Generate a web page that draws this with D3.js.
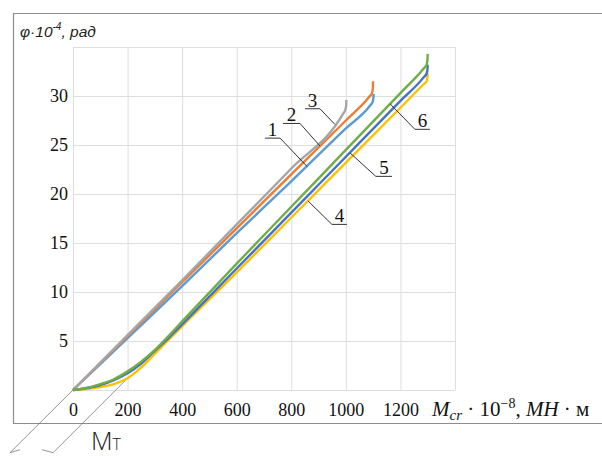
<!DOCTYPE html>
<html lang="ru">
<head>
  <meta charset="UTF-8">
  <title>φ(M) curves</title>
  <script src="https://d3js.org/d3.v7.min.js"></script>
  <style>
    body { margin: 0; background: #fff; }
    svg { display: block; }
    .tick-label text { font-family: "Liberation Serif", "Times New Roman", serif; font-size: 18px; fill: #111; }
  </style>
</head>
<body>

  <svg width="602" height="457"></svg>

  <script>
    // tick values
    const xGrid = [0, 200, 400, 600, 800, 1000, 1200, 1400];
    const xLabels = [0, 200, 400, 600, 800, 1000, 1200];
    const yGrid = [0, 5, 10, 15, 20, 25, 30, 35];
    const yLabels = [5, 10, 15, 20, 25, 30];

    // curve points [M, phi]
    const curve1 = [[0,0],[200,5.3],[400,10.6],[600,16.0],[800,21.3],[1000,26.7],[1088,29.0],[1098,29.4],[1101,29.8],[1102,30.2]];
    const curve2 = [[0,0],[200,5.5],[400,11.0],[600,16.5],[800,22.0],[1000,27.5],[1085,29.9],[1096,30.3],[1099,30.8],[1100,31.5]];
    const curve3 = [[0,0],[200,5.6],[400,11.2],[600,16.9],[800,22.6],[990,28.2],[998,28.6],[1001,29.0],[1002,29.6]];
    const curve4 = [[0,0],[50,0.1],[100,0.3],[150,0.6],[200,1.2],[250,2.3],[300,3.7],[350,5.1],[400,6.5],[600,12.0],[800,17.6],[1000,23.2],[1200,28.8],[1285,31.2],[1296,31.5],[1299,31.9],[1300,32.3]];
    const curve5 = [[0,0],[50,0.2],[100,0.5],[150,1.0],[200,1.7],[250,2.7],[300,4.0],[350,5.3],[400,6.7],[600,12.4],[800,18.1],[1000,23.8],[1200,29.5],[1285,31.9],[1296,32.3],[1299,32.7],[1300,33.2]];
    const curve6 = [[0,0],[50,0.2],[100,0.6],[150,1.1],[200,1.9],[250,2.9],[300,4.1],[350,5.5],[400,7.0],[600,12.9],[800,18.7],[1000,24.5],[1200,30.3],[1285,32.8],[1296,33.2],[1299,33.7],[1300,34.3]];

    const curves = [
      { name: "1", color: "#5b9bd5", pts: curve1 },
      { name: "2", color: "#ed7d31", pts: curve2 },
      { name: "3", color: "#a5a5a5", pts: curve3 },
      { name: "4", color: "#ffc000", pts: curve4 },
      { name: "5", color: "#4472c4", pts: curve5 },
      { name: "6", color: "#70ad47", pts: curve6 }
    ];

    // callouts: label underline (x1..x2 at y) and the point on the curve
    const callouts = [
      { name: "1", x1: 704, x2: 759, y: 25.7, tx: 858, ty: 22.8 },
      { name: "2", x1: 770, x2: 832, y: 27.2, tx: 905, ty: 24.9 },
      { name: "3", x1: 850, x2: 905, y: 28.7, tx: 960, ty: 27.1 },
      { name: "4", x1: 949, x2: 1004, y: 16.9, tx: 861, ty: 19.3 },
      { name: "5", x1: 1110, x2: 1169, y: 21.8, tx: 1015, ty: 24.2 },
      { name: "6", x1: 1253, x2: 1308, y: 26.6, tx: 1162, ty: 29.2 }
    ];

    // construction lines down to the M_T dimension
    const extLine1 = [[0, 0], [-231, -6.4]];
    const extLine2 = [[200, 1.2], [-73, -6.4]];

    const svg = d3.select("svg");
    const x = d3.scaleLinear().domain([0, 1400]).range([73, 455]);
    const y = d3.scaleLinear().domain([0, 35]).range([390, 47]);

    // outer frame
    svg.append("path")
      .attr("d", "M602,13.5 H13.5 V423.5 H602")
      .attr("fill", "none")
      .attr("stroke", "#8c8c8c")
      .attr("stroke-width", 1.2);

    // grid
    const gx = svg.append("g")
      .attr("transform", `translate(0,${y(0)})`)
      .call(d3.axisBottom(x).tickValues(xGrid).tickSize(-(y(0) - y(35))).tickFormat(""));
    const gy = svg.append("g")
      .attr("transform", `translate(${x(0)},0)`)
      .call(d3.axisLeft(y).tickValues(yGrid).tickSize(-(x(1400) - x(0))).tickFormat(""));
    [gx, gy].forEach(g => {
      g.select(".domain").remove();
      g.selectAll("line").attr("stroke", "#dedede").attr("stroke-width", 1);
    });

    // tick labels
    svg.append("g")
      .attr("class", "tick-label")
      .attr("transform", `translate(0,${y(0)})`)
      .call(d3.axisBottom(x).tickValues(xLabels).tickFormat(d3.format("d")).tickSize(0).tickPadding(13))
      .call(g => g.select(".domain").remove());
    svg.append("g")
      .attr("class", "tick-label")
      .attr("transform", `translate(${x(0)},0)`)
      .call(d3.axisLeft(y).tickValues(yLabels).tickSize(0).tickPadding(5))
      .call(g => g.select(".domain").remove());
    svg.selectAll(".tick-label text").attr("font-family", null).attr("font-size", null);

    // construction lines
    const thin = d3.line().x(d => x(d[0])).y(d => y(d[1]));
    [extLine1, extLine2].forEach(l => {
      svg.append("path")
        .attr("d", thin(l))
        .attr("fill", "none")
        .attr("stroke", "#666")
        .attr("stroke-width", 0.7);
    });
    // small arrow marks of the dimension
    svg.append("path")
      .attr("d", `M${x(-231)},${y(-6.4)} l10,-3 M${x(-73)},${y(-6.4)} l-11,-3`)
      .attr("fill", "none")
      .attr("stroke", "#666")
      .attr("stroke-width", 0.7);

    // curves
    const line = d3.line()
      .x(d => x(d[0]))
      .y(d => y(d[1]))
      .curve(d3.curveMonotoneX);

    svg.selectAll(".curve")
      .data(curves)
      .enter()
      .append("path")
      .attr("class", "curve")
      .attr("d", d => line(d.pts))
      .attr("fill", "none")
      .attr("stroke", d => d.color)
      .attr("stroke-width", 2.4)
      .attr("stroke-linejoin", "round");

    // callouts
    const co = svg.selectAll(".callout")
      .data(callouts)
      .enter()
      .append("g")
      .attr("class", "callout");
    co.append("path")
      .attr("d", d => {
        const near = d.tx > d.x2 ? d.x2 : d.x1;
        return `M${x(d.x1)},${y(d.y)} H${x(d.x2)} M${x(near)},${y(d.y)} L${x(d.tx)},${y(d.ty)}`;
      })
      .attr("fill", "none")
      .attr("stroke", "#333")
      .attr("stroke-width", 1);
    co.append("text")
      .attr("x", d => (x(d.x1) + x(d.x2)) / 2)
      .attr("y", d => y(d.y) - 2)
      .attr("text-anchor", "middle")
      .attr("font-family", "Liberation Serif, serif")
      .attr("font-size", 19)
      .attr("fill", "#111")
      .text(d => d.name);

    // y axis title
    const yt = svg.append("text")
      .attr("x", 20)
      .attr("y", 37)
      .attr("font-family", "Liberation Sans, Arial, sans-serif")
      .attr("font-style", "italic")
      .attr("font-size", 15.5)
      .attr("fill", "#222");
    yt.append("tspan").text("φ·10");
    yt.append("tspan").attr("font-size", 10).attr("dy", -7).text("-4");
    yt.append("tspan").attr("dy", 7).text(", рад");

    // x axis title
    const xt = svg.append("text")
      .attr("x", 432)
      .attr("y", 416)
      .attr("font-family", "Liberation Serif, serif")
      .attr("font-size", 21)
      .attr("fill", "#111");
    xt.append("tspan").attr("font-style", "italic").text("M");
    xt.append("tspan").attr("font-style", "italic").attr("font-size", 15).attr("dy", 4).text("cr");
    xt.append("tspan").attr("dy", -4).text(" · 10");
    xt.append("tspan").attr("font-size", 14).attr("dy", -8).text("−8");
    xt.append("tspan").attr("dy", 8).text(", ");
    xt.append("tspan").attr("font-style", "italic").text("MH");
    xt.append("tspan").text(" · м");

    // M_T label
    const mt = svg.append("text")
      .attr("x", 91)
      .attr("y", 450)
      .attr("font-family", "Open Sans, Lato, sans-serif")
      .attr("font-weight", 300)
      .attr("font-size", 25)
      .attr("fill", "#222");
    mt.append("tspan").text("М");
    mt.append("tspan").attr("font-size", 16).text("Т");
  </script>

</body>
</html>
